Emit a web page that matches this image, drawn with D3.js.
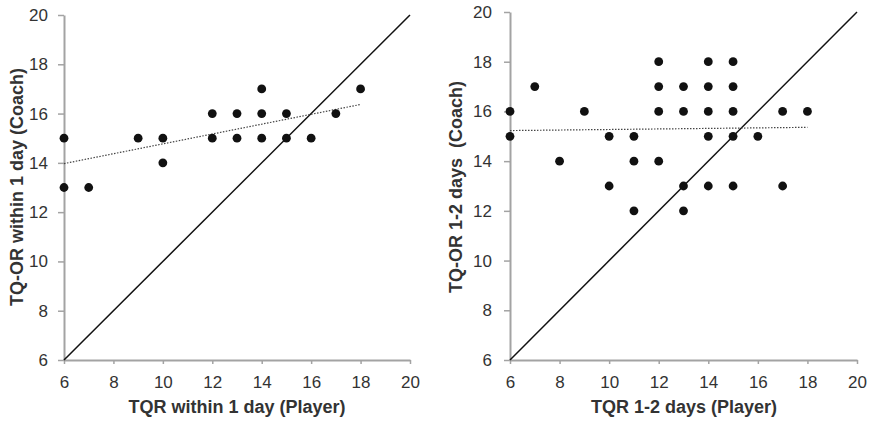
<!DOCTYPE html>
<html>
<head>
<meta charset="utf-8">
<script src="https://cdn.jsdelivr.net/npm/d3@7/dist/d3.min.js"></script>
<style>
  html, body { margin: 0; padding: 0; background: #fff; }
  svg { display: block; }
  .tick text { font-family: "Liberation Sans Narrow", "Arial Narrow", "Liberation Sans", Arial, sans-serif; font-size: 17px; fill: #333; }
  .title { font-family: "Liberation Sans", Arial, sans-serif; font-size: 18px; font-weight: bold; fill: #333; white-space: pre; }
</style>
</head>
<body>
<svg id="chart" width="869" height="422"></svg>
<script>
// ---- data ----
const tickValues = [6, 8, 10, 12, 14, 16, 18, 20];

const leftPlayer = [6, 6, 7, 9, 10, 10, 12, 12, 13, 13, 14, 14, 14, 15, 15, 16, 17, 18];
const leftCoach  = [15, 13, 13, 15, 15, 14, 16, 15, 16, 15, 17, 16, 15, 16, 15, 15, 16, 17];
const leftTrendX = [6, 18];
const leftTrendY = [13.97, 16.37];

const rightPlayer = [6, 6, 7, 8, 9, 10, 10, 11, 11, 11, 12, 12, 12, 12, 13, 13, 13, 13,
                     14, 14, 14, 14, 14, 15, 15, 15, 15, 15, 16, 17, 17, 18];
const rightCoach  = [16, 15, 17, 14, 16, 15, 13, 15, 14, 12, 18, 17, 16, 14, 17, 16, 13, 12,
                     18, 17, 16, 15, 13, 18, 17, 16, 15, 13, 15, 16, 13, 16];
const rightTrendX = [6, 18];
const rightTrendY = [15.23, 15.36];

const identity = [6, 20];

const leftXTitle = "TQR within 1 day (Player)";
const leftYTitle = "TQ-OR within 1 day (Coach)";
const rightXTitle = "TQR 1-2 days (Player)";
const rightYTitle = "TQ-OR 1-2 days  (Coach)";

// ---- drawing ----
const svg = d3.select("#chart");

function panel(cfg) {
  const x = d3.scaleLinear().domain([6, 20]).range([cfg.x0, cfg.x1]);
  const y = d3.scaleLinear().domain([6, 20]).range([cfg.y0, cfg.y1]);
  const g = svg.append("g");

  const xAxis = g.append("g")
    .attr("transform", `translate(0,${cfg.y0})`)
    .call(d3.axisBottom(x).tickValues(tickValues).tickSize(4).tickSizeOuter(0).tickPadding(12));
  const yAxis = g.append("g")
    .attr("transform", `translate(${cfg.x0},0)`)
    .call(d3.axisLeft(y).tickValues(tickValues).tickSize(6).tickSizeOuter(0).tickPadding(cfg.ypad));
  [xAxis, yAxis].forEach(a => {
    a.attr("font-family", null).attr("font-size", null);
    a.select(".domain").attr("stroke", "#a3a3a3").attr("stroke-width", 2);
    a.selectAll(".tick line").attr("stroke", "#a3a3a3").attr("stroke-width", 1.5);
  });

  // identity line
  g.append("line")
    .attr("x1", x(identity[0])).attr("y1", y(identity[0]))
    .attr("x2", x(identity[1])).attr("y2", y(identity[1]))
    .attr("stroke", "#111").attr("stroke-width", 1.5);

  // trend line
  g.append("line")
    .attr("x1", x(cfg.tx[0])).attr("y1", y(cfg.ty[0]))
    .attr("x2", x(cfg.tx[1])).attr("y2", y(cfg.ty[1]))
    .attr("stroke", "#444").attr("stroke-width", 1.2)
    .attr("stroke-dasharray", "1.5,1.5");

  // points
  g.selectAll("circle.pt").data(cfg.px.map((v, i) => [v, cfg.py[i]]))
    .join("circle").attr("class", "pt")
    .attr("cx", d => x(d[0])).attr("cy", d => y(d[1]))
    .attr("r", 4.4).attr("fill", "#111");

  // titles
  g.append("text").attr("class", "title")
    .attr("x", cfg.xtx).attr("y", 413).attr("text-anchor", "middle")
    .text(cfg.xt);
  g.append("text").attr("class", "title")
    .attr("transform", `translate(${cfg.ytx},${cfg.yty}) rotate(-90)`)
    .attr("text-anchor", "middle")
    .text(cfg.yt);
}

panel({x0: 64, x1: 410, y0: 360, y1: 15, ypad: 10,
       px: leftPlayer, py: leftCoach, tx: leftTrendX, ty: leftTrendY,
       xt: leftXTitle, yt: leftYTitle, xtx: 237, ytx: 23, yty: 187});
panel({x0: 510, x1: 857, y0: 360, y1: 12, ypad: 12,
       px: rightPlayer, py: rightCoach, tx: rightTrendX, ty: rightTrendY,
       xt: rightXTitle, yt: rightYTitle, xtx: 684, ytx: 462, yty: 187});
</script>
</body>
</html>
